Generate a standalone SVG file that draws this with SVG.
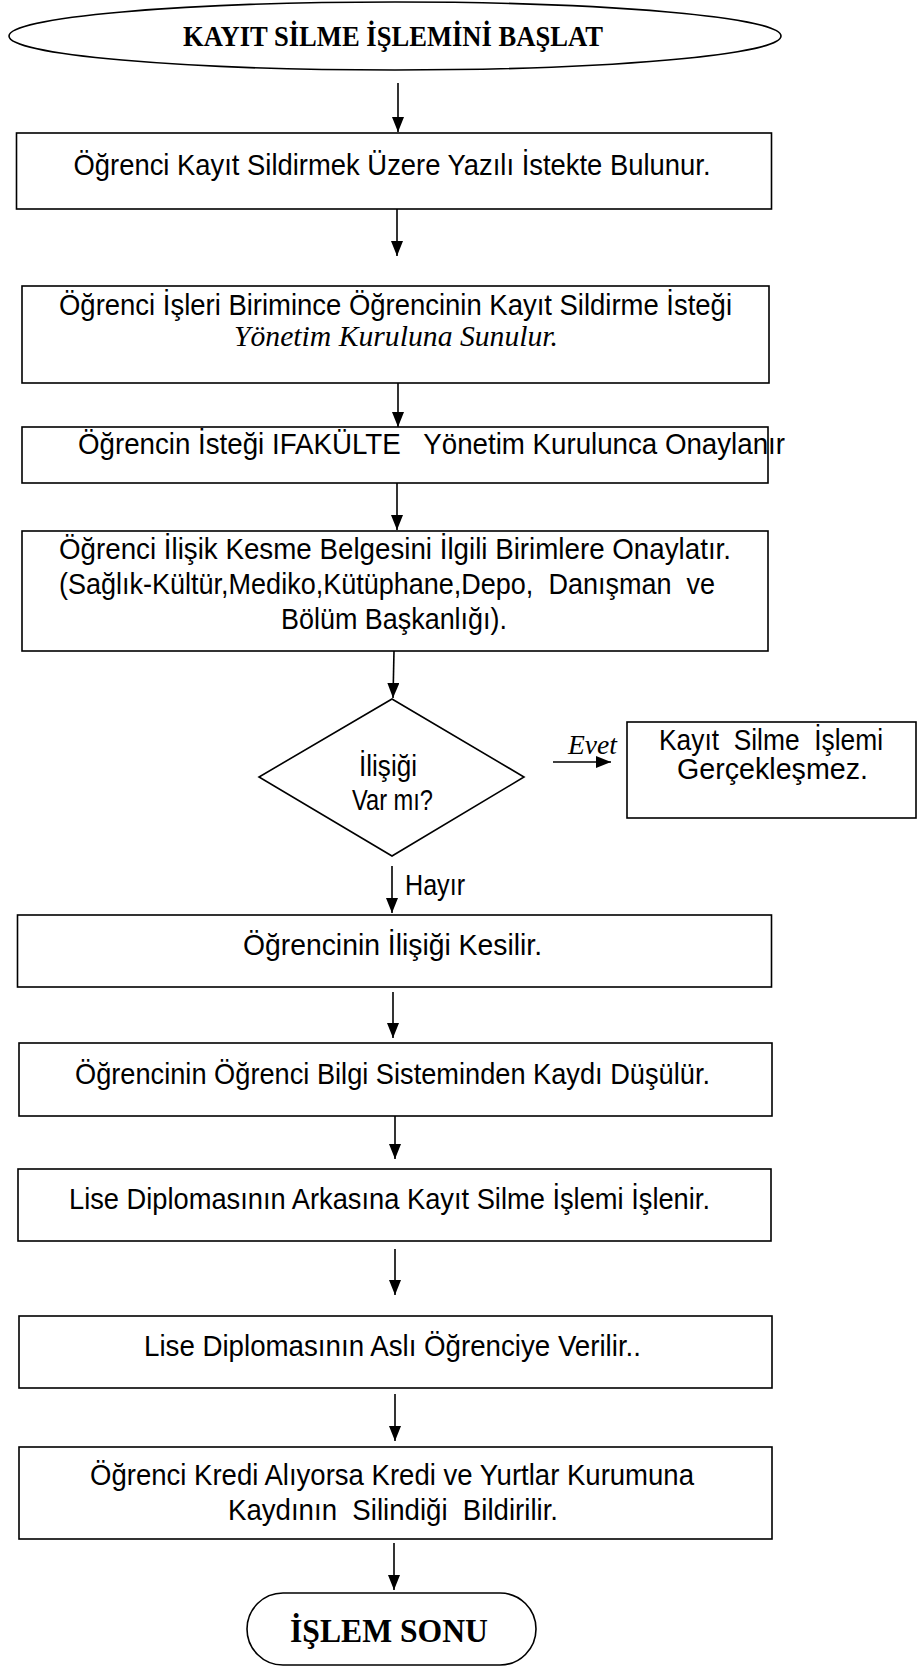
<svg xmlns="http://www.w3.org/2000/svg" width="920" height="1668" viewBox="0 0 920 1668">
<style>
  text{white-space:pre}
  .shape{fill:#fff;stroke:#000;stroke-width:1.6}
  .sans{font-family:"Liberation Sans",Arial,sans-serif;font-size:29px;fill:#000}
  .bold{font-family:"Liberation Serif","Times New Roman",serif;font-weight:bold;fill:#000}
  .ital{font-family:"Liberation Serif","Times New Roman",serif;font-style:italic;fill:#000}
  #connectors line{stroke:#000;stroke-width:1.6;marker-end:url(#arrow)}
</style>
<defs>
  <marker id="arrow" markerUnits="userSpaceOnUse" markerWidth="15" markerHeight="12" refX="15" refY="6" orient="auto">
    <path d="M0,0 L15,6 L0,12 z" fill="#000"/>
  </marker>
</defs>
<rect width="920" height="1668" fill="#fff"/>

<!-- start terminator -->
<g id="start">
  <ellipse class="shape" cx="395" cy="36" rx="386" ry="34"/>
  <text class="bold" x="183" y="46" font-size="30" textLength="420" lengthAdjust="spacingAndGlyphs">KAYIT SİLME İŞLEMİNİ BAŞLAT</text>
</g>

<g id="step1">
  <rect class="shape" x="16.5" y="133" width="755" height="76"/>
  <text class="sans" x="73.5" y="175" textLength="637" lengthAdjust="spacingAndGlyphs">Öğrenci Kayıt Sildirmek Üzere Yazılı İstekte Bulunur.</text>
</g>

<g id="step2">
  <rect class="shape" x="22" y="286" width="747" height="97"/>
  <text class="sans" x="59" y="315" textLength="673" lengthAdjust="spacingAndGlyphs">Öğrenci İşleri Birimince Öğrencinin Kayıt Sildirme İsteği</text>
  <text class="ital" x="234" y="346" font-size="30" textLength="324" lengthAdjust="spacingAndGlyphs">Yönetim Kuruluna Sunulur.</text>
</g>

<g id="step3">
  <rect class="shape" x="22" y="427" width="746" height="56"/>
  <text class="sans" x="78" y="454" textLength="707" lengthAdjust="spacingAndGlyphs">Öğrencin İsteği IFAKÜLTE   Yönetim Kurulunca Onaylanır</text>
</g>

<g id="step4">
  <rect class="shape" x="22" y="531" width="746" height="120"/>
  <text class="sans" x="59" y="559" textLength="672" lengthAdjust="spacingAndGlyphs">Öğrenci İlişik Kesme Belgesini İlgili Birimlere Onaylatır.</text>
  <text class="sans" x="59" y="594" textLength="656" lengthAdjust="spacingAndGlyphs">(Sağlık-Kültür,Mediko,Kütüphane,Depo,  Danışman  ve</text>
  <text class="sans" x="281" y="629" textLength="226" lengthAdjust="spacingAndGlyphs">Bölüm Başkanlığı).</text>
</g>

<g id="decision">
  <polygon class="shape" points="392,699 524,777 392,856 259,777"/>
  <text class="sans" x="359" y="776" font-size="27" textLength="58" lengthAdjust="spacingAndGlyphs">İlişiği</text>
  <text class="sans" x="352" y="810" font-size="27" textLength="81" lengthAdjust="spacingAndGlyphs">Var mı?</text>
</g>

<g id="stop-note">
  <rect class="shape" x="627" y="722" width="289" height="96"/>
  <text class="sans" x="659" y="750" textLength="224" lengthAdjust="spacingAndGlyphs">Kayıt  Silme  İşlemi</text>
  <text class="sans" x="677" y="779" textLength="191" lengthAdjust="spacingAndGlyphs">Gerçekleşmez.</text>
</g>

<g id="step5">
  <rect class="shape" x="17.5" y="915" width="754" height="72"/>
  <text class="sans" x="243" y="955" textLength="299" lengthAdjust="spacingAndGlyphs">Öğrencinin İlişiği Kesilir.</text>
</g>

<g id="step6">
  <rect class="shape" x="19" y="1043" width="753" height="73"/>
  <text class="sans" x="75" y="1084" textLength="635" lengthAdjust="spacingAndGlyphs">Öğrencinin Öğrenci Bilgi Sisteminden Kaydı Düşülür.</text>
</g>

<g id="step7">
  <rect class="shape" x="18" y="1169" width="753" height="72"/>
  <text class="sans" x="69" y="1209" textLength="641" lengthAdjust="spacingAndGlyphs">Lise Diplomasının Arkasına Kayıt Silme İşlemi İşlenir.</text>
</g>

<g id="step8">
  <rect class="shape" x="19" y="1316" width="753" height="72"/>
  <text class="sans" x="144" y="1356" textLength="497" lengthAdjust="spacingAndGlyphs">Lise Diplomasının Aslı Öğrenciye Verilir..</text>
</g>

<g id="step9">
  <rect class="shape" x="19" y="1447" width="753" height="92"/>
  <text class="sans" x="90" y="1485" textLength="604" lengthAdjust="spacingAndGlyphs">Öğrenci Kredi Alıyorsa Kredi ve Yurtlar Kurumuna</text>
  <text class="sans" x="228" y="1520" textLength="330" lengthAdjust="spacingAndGlyphs">Kaydının  Silindiği  Bildirilir.</text>
</g>

<!-- end terminator -->
<g id="end">
  <rect class="shape" x="247" y="1593" width="289" height="72" rx="36" ry="36"/>
  <text class="bold" x="290" y="1642" font-size="33" textLength="198" lengthAdjust="spacingAndGlyphs">İŞLEM SONU</text>
</g>

<g id="connectors">
  <line x1="398" y1="83" x2="398" y2="132"/>
  <line x1="397" y1="209" x2="397" y2="256"/>
  <line x1="398" y1="383" x2="398" y2="427"/>
  <line x1="397" y1="483" x2="397" y2="530"/>
  <line x1="394" y1="651" x2="393" y2="698"/>
  <line x1="553" y1="762" x2="611" y2="762"/>
  <line x1="392" y1="866" x2="392" y2="913"/>
  <line x1="393" y1="992" x2="393" y2="1038"/>
  <line x1="395" y1="1116" x2="395" y2="1159"/>
  <line x1="395" y1="1249" x2="395" y2="1295"/>
  <line x1="395" y1="1394" x2="395" y2="1441"/>
  <line x1="394" y1="1543" x2="394" y2="1590"/>
  <text class="ital" x="568" y="754" font-size="28" textLength="49" lengthAdjust="spacingAndGlyphs">Evet</text>
  <text class="sans" x="405" y="895" font-size="28" textLength="60" lengthAdjust="spacingAndGlyphs">Hayır</text>
</g>
</svg>
